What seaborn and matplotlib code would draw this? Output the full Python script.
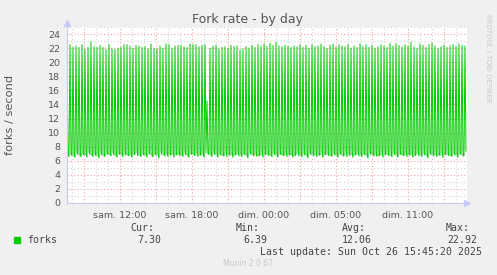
import numpy as np
import pandas as pd
import seaborn as sns
import matplotlib
matplotlib.use("Agg")
import matplotlib.pyplot as plt
from matplotlib.patches import Rectangle

# ---------------- data (forks / second, one sample every 5 minutes) ----------------
forks = [
    22.5, 6.9, 6.6, 22.5, 7.0, 6.7, 22.1, 6.8, 6.5, 22.3, 7.1, 6.9, 22.1, 6.7, 6.6,
    22.5, 7.0, 6.8, 21.8, 6.9, 6.5, 22.1, 7.2, 6.9, 22.92, 6.8, 6.6, 22.2, 7.0, 6.7,
    22.1, 6.9, 6.39, 22.4, 7.1, 6.8, 22.1, 6.7, 6.6, 21.8, 7.0, 6.9, 22.5, 6.9, 6.7,
    21.9, 7.2, 6.8, 21.8, 6.8, 6.5, 22.0, 7.0, 6.9, 22.1, 6.9, 6.6, 22.5, 7.1, 6.8,
    22.5, 6.8, 6.7, 22.3, 7.0, 6.5, 22.0, 6.9, 6.9, 22.4, 7.2, 6.7, 22.3, 6.8, 6.6,
    22.1, 7.0, 6.8, 22.2, 6.9, 6.5, 21.9, 7.1, 6.9, 22.6, 6.7, 6.6, 22.0, 7.0, 6.8,
    21.9, 6.9, 6.4, 22.3, 7.2, 6.9, 22.0, 6.8, 6.7, 22.6, 7.0, 6.6, 22.5, 6.9, 6.8,
    22.0, 7.1, 6.5, 22.3, 6.8, 6.9, 22.4, 7.0, 6.7, 22.4, 6.9, 6.6, 22.2, 7.2, 6.8,
    22.1, 6.7, 6.5, 22.6, 7.0, 6.9, 22.5, 6.9, 6.7, 22.5, 7.1, 6.6, 22.2, 6.8, 6.8,
    22.4, 7.0, 6.5,
    22.5, 7.1, 14.5, 7.0, 6.9,
    22.0, 6.8, 6.6, 22.3, 7.1, 6.9, 22.4, 6.9, 6.5, 21.9, 7.0, 6.8, 22.1, 6.7, 6.7,
    22.2, 7.2, 6.6, 22.0, 6.9, 6.8, 22.4, 7.0, 6.5, 22.2, 6.8, 6.9, 22.3, 7.1, 6.7,
    21.7, 6.9, 6.6, 21.9, 7.0, 6.8, 22.2, 6.8, 6.4, 22.0, 7.2, 6.9, 22.4, 6.9, 6.7,
    22.1, 7.0, 6.6, 22.5, 6.7, 6.8, 22.3, 7.1, 6.5, 22.6, 6.9, 6.9, 22.2, 7.0, 6.7,
    22.7, 6.8, 6.6, 22.4, 7.2, 6.8, 22.8, 6.9, 6.5, 22.3, 7.0, 6.9, 22.2, 6.8, 6.7,
    22.4, 7.1, 6.6, 22.3, 6.9, 6.8, 22.1, 7.0, 6.5, 22.3, 6.7, 6.9, 22.2, 7.2, 6.7,
    22.5, 6.9, 6.6, 22.1, 7.0, 6.8, 22.4, 6.8, 6.4, 22.0, 7.1, 6.9, 22.5, 6.9, 6.7,
    22.2, 7.0, 6.6, 22.3, 6.8, 6.8, 22.6, 7.2, 6.5, 22.2, 6.9, 6.9, 22.0, 7.0, 6.7,
    22.4, 6.8, 6.6, 22.6, 7.1, 6.8, 22.1, 6.9, 6.5, 22.5, 7.0, 6.9, 22.3, 6.7, 6.7,
    22.2, 7.2, 6.6, 22.5, 6.9, 6.8, 22.0, 7.0, 6.5, 22.3, 6.8, 6.9, 22.1, 7.1, 6.7,
    22.6, 6.9, 6.6, 22.2, 7.0, 6.8, 22.5, 6.8, 6.4, 22.1, 7.2, 6.9, 22.4, 6.9, 6.7,
    22.0, 7.0, 6.6, 22.2, 6.7, 6.8, 22.5, 7.1, 6.5, 22.3, 6.9, 6.9, 22.1, 7.0, 6.7,
    22.7, 6.8, 6.6, 22.3, 7.2, 6.8, 22.6, 6.9, 6.5, 22.4, 7.0, 6.9, 22.2, 6.8, 6.7,
    22.5, 7.1, 6.6, 22.3, 6.9, 6.8, 22.8, 7.0, 6.5, 22.2, 6.7, 6.9, 22.0, 7.2, 6.7,
    22.6, 6.9, 6.6, 22.4, 7.0, 6.8, 22.1, 6.8, 6.4, 22.5, 7.1, 6.9, 22.7, 6.9, 6.7,
    22.3, 7.0, 6.6, 22.0, 6.8, 6.8, 22.2, 7.2, 6.5, 22.4, 6.9, 6.9, 22.1, 7.0, 6.7,
    22.3, 6.8, 6.6, 22.5, 7.1, 6.8, 22.2, 6.9, 6.5, 22.6, 7.0, 6.9, 22.4, 6.7, 6.7,
    22.3, 7.30,
]
start_hour = 7 + 35 / 60          # Sat 07:35 (hours since Sat 00:00, elapsed time)
step_hours = 5 / 60               # 5-minute samples

tick_hours = [12, 18, 24, 30, 36]
tick_labels = ["sam. 12:00", "sam. 18:00", "dim. 00:00", "dim. 05:00", "dim. 11:00"]

legend_name = "forks"
stat_headers = ["Cur:", "Min:", "Avg:", "Max:"]
stat_values = ["7.30", "6.39", "12.06", "22.92"]

title = "Fork rate - by day"
ylabel = "forks / second"
last_update = "Last update: Sun Oct 26 15:45:20 2025"
footer = "Munin 2.0.67"
side_text = "RRDTOOL / TOBI OETIKER"

# ---------------- figure ----------------
sns.set_theme(style="white")
plt.rcParams["font.family"] = ["DejaVu Sans"]

W, H = 497, 275
fig = plt.figure(figsize=(W / 100, H / 100), dpi=100, facecolor="#f0f0f0")

def fx(px):
    return px / W

def fy(py):
    return 1 - py / H

ax = fig.add_axes([fx(67), fy(203), fx(400), 176 / H])
ax.set_facecolor("white")

df = pd.DataFrame({"hour": start_hour + step_hours * np.arange(len(forks)),
                   "forks": forks})
sns.lineplot(data=df, x="hour", y="forks", ax=ax, color="#00cc00",
             linewidth=0.7, zorder=3)

ax.set_xlim(start_hour, start_hour + 400 * step_hours)
ax.set_ylim(0, 25)

# ticks / grid
major_x = list(range(9, 41, 3))
ax.set_xticks(major_x)
ax.set_xticklabels([tick_labels[tick_hours.index(h)] if h in tick_hours else ""
                    for h in major_x])
ax.set_xticks(list(range(8, 41)), minor=True)
ax.set_yticks(list(range(0, 25, 2)))
ax.set_yticks(list(range(1, 26, 2)), minor=True)

dot = (0, (1, 2))
ax.grid(which="major", color="#f0a0a0", linestyle=dot, linewidth=0.8)
ax.grid(which="minor", color="#d4d4d4", linestyle=dot, linewidth=0.8)
ax.set_axisbelow(True)

ax.tick_params(axis="both", which="major", labelsize=6.8, labelcolor="#555555",
               length=2, width=0.7, pad=3, color="#f0a0a0")
ax.tick_params(axis="both", which="minor", length=2, width=0.7, color="#d0d0d0")
ax.tick_params(axis="x", pad=4)

for s in ["top", "right"]:
    ax.spines[s].set_visible(False)
for s in ["left", "bottom"]:
    ax.spines[s].set_color("#c8c8f0")
    ax.spines[s].set_linewidth(0.8)
    ax.spines[s].set_zorder(4)

# axis arrows
ax.plot([1.0], [0], marker=">", color="#c8c8f8", markersize=5,
        transform=ax.transAxes, clip_on=False, zorder=5)
ax.plot([0], [1.02], marker="^", color="#c8c8f8", markersize=5,
        transform=ax.transAxes, clip_on=False, zorder=5)

ax.set_xlabel("")
ax.set_ylabel("")

# texts
fig.text(fx(248), fy(20), title, ha="center", va="center", fontsize=9,
         color="#555555")
fig.text(fx(10), fy(115), ylabel, ha="center", va="center", rotation=90,
         fontsize=8.2, color="#555555")
fig.text(fx(488), fy(58), side_text, ha="center", va="center", rotation=270,
         fontsize=5, color="#c8c8c8")

mono = ["DejaVu Sans Mono"]
fs = 7.1
fig.add_artist(Rectangle((fx(14), fy(243)), fx(6), 6 / H,
                         transform=fig.transFigure, color="#00cc00"))
fig.text(fx(27), fy(240), legend_name, ha="left", va="center", fontsize=fs,
         family=mono, color="#444444")
header_right = [154, 260, 366, 470]
value_right = [161, 267, 372, 477]
for h, v, hr, vr in zip(stat_headers, stat_values, header_right, value_right):
    fig.text(fx(hr), fy(228), h, ha="right", va="center", fontsize=fs,
             family=mono, color="#444444")
    fig.text(fx(vr), fy(240), v, ha="right", va="center", fontsize=fs,
             family=mono, color="#444444")
fig.text(fx(482), fy(252), last_update, ha="right", va="center", fontsize=fs,
         family=mono, color="#444444")
fig.text(fx(248), fy(264), footer, ha="center", va="center", fontsize=5.5,
         color="#c8c8c8")

fig.savefig("out.png", dpi=100, facecolor=fig.get_facecolor())
